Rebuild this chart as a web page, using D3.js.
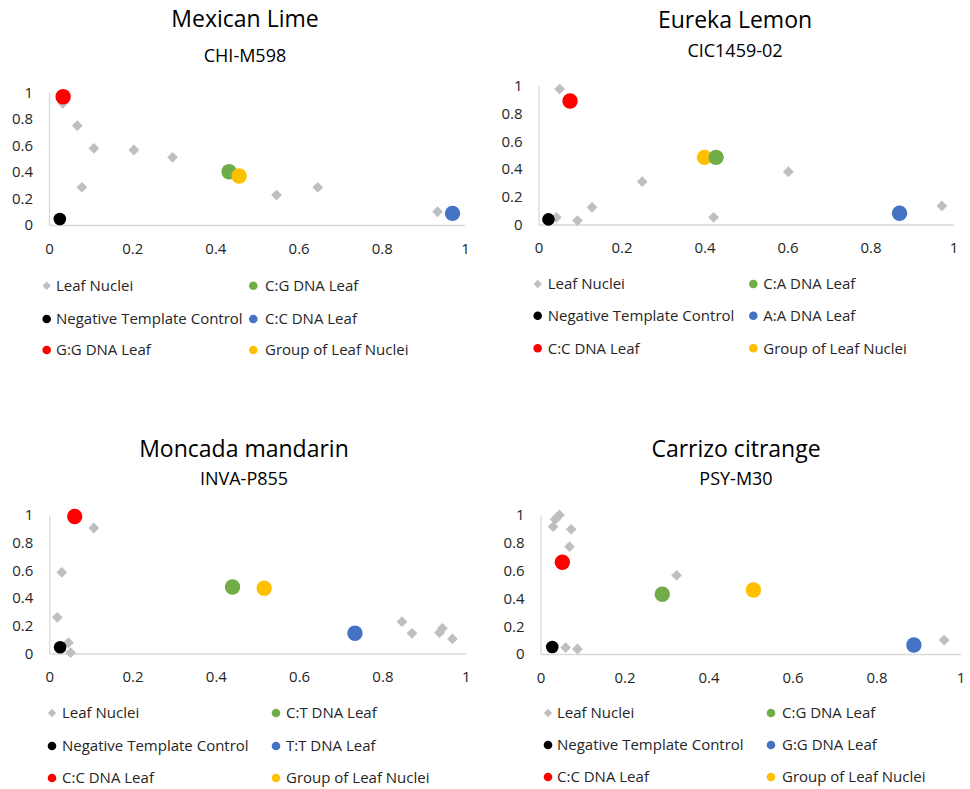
<!DOCTYPE html>
<html>
<head>
<meta charset="utf-8">
<script src="https://cdn.jsdelivr.net/npm/d3@7"></script>
<style>
  html, body { margin: 0; padding: 0; background: #fff; }
  svg { display: block; font-family: "Open Sans", "Noto Sans", sans-serif; }
</style>
</head>
<body>
<svg id="chart" width="970" height="789"></svg>
<script>
// Genotyping scatter plots: allele fraction (x) vs. allele fraction (y)
const panelTitles = ["Mexican Lime", "Eureka Lemon", "Moncada mandarin", "Carrizo citrange"];
const panelSubtitles = ["CHI-M598", "CIC1459-02", "INVA-P855", "PSY-M30"];
const axisTicks = [0, 0.2, 0.4, 0.6, 0.8, 1];

// Legend labels per panel, in series order:
// Leaf Nuclei, heterozygous DNA, NTC, homozygous DNA (blue), homozygous DNA (red), group of nuclei
const legendLabels = [
  ["Leaf Nuclei", "C:G DNA Leaf", "Negative Template Control", "C:C DNA Leaf", "G:G DNA Leaf", "Group of Leaf Nuclei"],
  ["Leaf Nuclei", "C:A DNA Leaf", "Negative Template Control", "A:A DNA Leaf", "C:C DNA Leaf", "Group of Leaf Nuclei"],
  ["Leaf Nuclei", "C:T DNA Leaf", "Negative Template Control", "T:T DNA Leaf", "C:C DNA Leaf", "Group of Leaf Nuclei"],
  ["Leaf Nuclei", "C:G DNA Leaf", "Negative Template Control", "G:G DNA Leaf", "C:C DNA Leaf", "Group of Leaf Nuclei"]
];

// Single leaf nuclei [x, y]
const nucleiMexicanLime = [[0.033, 0.918], [0.068, 0.75], [0.108, 0.579], [0.204, 0.566], [0.297, 0.511],
  [0.079, 0.284], [0.547, 0.226], [0.646, 0.284], [0.934, 0.10]];
const nucleiEurekaLemon = [[0.051, 0.978], [0.602, 0.381], [0.25, 0.309], [0.129, 0.124], [0.972, 0.134],
  [0.043, 0.052], [0.094, 0.028], [0.422, 0.052]];
const nucleiMoncada = [[0.107, 0.906], [0.03, 0.586], [0.019, 0.261], [0.847, 0.23], [0.871, 0.146],
  [0.944, 0.182], [0.937, 0.15], [0.968, 0.105], [0.046, 0.078], [0.051, 0.006]];
const nucleiCarrizo = [[0.045, 1.0], [0.04, 0.985], [0.035, 0.969], [0.03, 0.916], [0.073, 0.897], [0.069, 0.772],
  [0.324, 0.566], [0.961, 0.10], [0.06, 0.046], [0.088, 0.036]];

// Controls and reference DNA [x, y]
const heteroDNA   = [[0.433, 0.402], [0.428, 0.485], [0.44, 0.48],  [0.29, 0.43]];
const ntcControl  = [[0.026, 0.045], [0.024, 0.037], [0.026, 0.045], [0.028, 0.05]];
const homoBlueDNA = [[0.970, 0.088], [0.87, 0.081], [0.734, 0.146], [0.889, 0.065]];
const homoRedDNA  = [[0.034, 0.968], [0.076, 0.892], [0.061, 0.989], [0.052, 0.66]];
const nucleiGroup = [[0.457, 0.37],  [0.40, 0.485], [0.516, 0.471], [0.507, 0.46]];

const nucleiByPanel = [nucleiMexicanLime, nucleiEurekaLemon, nucleiMoncada, nucleiCarrizo];

const colors = { nuclei: "#BFBFBF", hetero: "#70AD47", ntc: "#000000", blue: "#4472C4", red: "#FF0000", group: "#FFC000" };
const seriesColors = [colors.nuclei, colors.hetero, colors.ntc, colors.blue, colors.red, colors.group];

// Panel geometry
const layouts = [
  { xr: [49, 465],    yr: [225, 92.5], cx: 245, titleY: 27, subY: 62, heteroOnTop: false,
    legRows: [285.7, 319, 350], legMk: [46.7, 253.3], legTx: [56, 265] },
  { xr: [538.5, 953.5], yr: [224.5, 86], cx: 735, titleY: 28, subY: 57, heteroOnTop: true,
    legRows: [284, 315.7, 348.3], legMk: [537.7, 753.3], legTx: [547.7, 763.3] },
  { xr: [49.3, 465.7], yr: [653.5, 515], cx: 244, titleY: 457, subY: 485, heteroOnTop: false,
    legRows: [713, 746, 778], legMk: [52, 276], legTx: [62, 286] },
  { xr: [540.5, 960.5], yr: [654, 515], cx: 736, titleY: 457, subY: 485, heteroOnTop: false,
    legRows: [713, 745, 777], legMk: [548, 771], legTx: [557, 782] }
];

const svg = d3.select("#chart");
const textColor = "#262626";
const fmt = d3.format("");

const diamond = (s) => `M0,${-s}L${s},0L0,${s}L${-s},0Z`;

layouts.forEach((L, i) => {
  const g = svg.append("g");
  const x = d3.scaleLinear().domain([0, 1]).range(L.xr);
  const y = d3.scaleLinear().domain([0, 1]).range(L.yr);

  g.append("text").attr("x", L.cx).attr("y", L.titleY).attr("text-anchor", "middle")
    .attr("font-size", 23).attr("fill", "#000").text(panelTitles[i]);
  g.append("text").attr("x", L.cx).attr("y", L.subY).attr("text-anchor", "middle")
    .attr("font-size", 18).attr("fill", "#000").text(panelSubtitles[i]);

  const xAxis = g.append("g").attr("transform", `translate(0,${L.yr[0]})`)
    .call(d3.axisBottom(x).tickValues(axisTicks).tickFormat(fmt).tickSize(0).tickPadding(18));
  const yAxis = g.append("g").attr("transform", `translate(${L.xr[0]},0)`)
    .call(d3.axisLeft(y).tickValues(axisTicks).tickFormat(fmt).tickSize(0).tickPadding(16));
  [xAxis, yAxis].forEach(a => {
    a.select(".domain").attr("stroke", "#D9D9D9").attr("stroke-width", 1.3);
    a.selectAll("text").attr("font-size", 15).attr("fill", textColor).attr("font-family", "Open Sans, sans-serif");
  });

  // Leaf nuclei diamonds
  g.append("g").selectAll("path").data(nucleiByPanel[i]).join("path")
    .attr("d", diamond(5.4))
    .attr("transform", d => `translate(${x(d[0])},${y(d[1])})`)
    .attr("fill", colors.nuclei);

  // Controls and reference DNA circles
  const circles = [
    { d: heteroDNA[i], c: colors.hetero, r: 7.7 },
    { d: ntcControl[i], c: colors.ntc, r: 6.3 },
    { d: homoBlueDNA[i], c: colors.blue, r: 7.7 },
    { d: homoRedDNA[i], c: colors.red, r: 7.7 },
    { d: nucleiGroup[i], c: colors.group, r: 7.7 }
  ];
  if (L.heteroOnTop) circles.push(circles.shift());
  g.append("g").selectAll("circle").data(circles).join("circle")
    .attr("cx", d => x(d.d[0])).attr("cy", d => y(d.d[1])).attr("r", d => d.r)
    .attr("fill", d => d.c);

  // Legend, two columns, row-major
  const leg = g.append("g");
  legendLabels[i].forEach((lab, k) => {
    const row = Math.floor(k / 2), col = k % 2;
    const ly = L.legRows[row];
    if (k === 0) {
      leg.append("path").attr("d", diamond(4.2))
        .attr("transform", `translate(${L.legMk[col]},${ly})`).attr("fill", seriesColors[k]);
    } else {
      leg.append("circle").attr("cx", L.legMk[col]).attr("cy", ly).attr("r", 4.3).attr("fill", seriesColors[k]);
    }
    leg.append("text").attr("x", L.legTx[col]).attr("y", ly).attr("dy", "0.35em")
      .attr("font-size", 15).attr("fill", textColor).text(lab);
  });
});
</script>
</body>
</html>
